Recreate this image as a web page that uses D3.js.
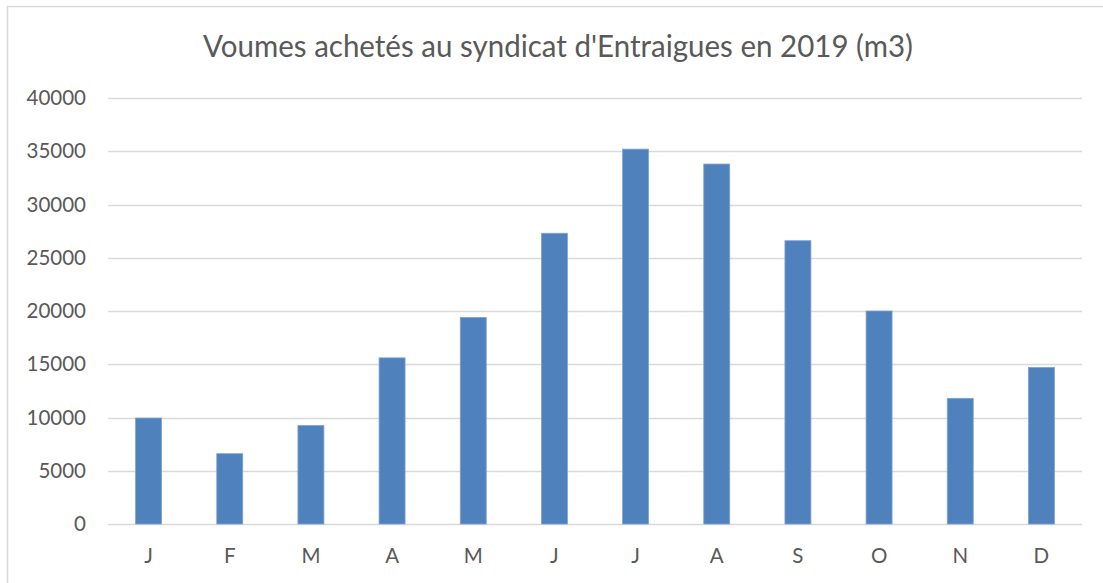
<!DOCTYPE html>
<html><head><meta charset="utf-8">
<script src="https://cdn.jsdelivr.net/npm/d3@7"></script>
<style>body{margin:0;background:#fff}svg{display:block}</style>
</head><body>
<svg id="c" width="1103" height="583"></svg>
<script>
const title = "Voumes achetés au syndicat d'Entraigues en 2019 (m3)";
const months = ["J","F","M","A","M","J","J","A","S","O","N","D"];
const values = [9950, 6600, 9250, 15600, 19400, 27300, 35200, 33800, 26600, 20000, 11800, 14700];
const yTicks = [0, 5000, 10000, 15000, 20000, 25000, 30000, 35000, 40000];

(function(){
const svg = d3.select("#c");
const font = "Lato, 'Open Sans', sans-serif";
svg.append("rect").attr("x",7.5).attr("y",6.5).attr("width",1200).attr("height",700)
  .attr("fill","#fff").attr("stroke","#d9d9d9").attr("stroke-width",1.5);

const pLeft = 108, pRight = 1082, pTop = 98, pBottom = 524;
const x = d3.scaleBand().domain(d3.range(months.length)).range([pLeft, pRight]).paddingInner(0.68).paddingOuter(0.34);
const y = d3.scaleLinear().domain([0, 40000]).range([pBottom, pTop]);

const g = svg.append("g");
g.selectAll("line.grid").data(yTicks).join("line")
  .attr("x1", pLeft).attr("x2", pRight)
  .attr("y1", d => Math.round(y(d)) + 0.5).attr("y2", d => Math.round(y(d)) + 0.5)
  .attr("stroke", "#d9d9d9").attr("stroke-width", 1.5);

const yAxis = d3.axisLeft(y).tickValues(yTicks).tickSize(0).tickPadding(0).tickFormat(d3.format("d"));
const ya = svg.append("g").attr("transform", `translate(${pLeft-22},0)`).call(yAxis);
ya.select(".domain").remove();
ya.selectAll("text").attr("font-family", font).attr("font-size", 20.5).attr("fill", "#595959");

g.selectAll("rect.bar").data(values).join("rect")
  .attr("x", (d,i) => x(i)).attr("width", x.bandwidth())
  .attr("y", d => y(d)).attr("height", d => y(0) - y(d))
  .attr("fill", "#4f81bd").attr("stroke", "#7fa3d0").attr("stroke-width", 0.8);

const xAxis = d3.axisBottom(x).tickSize(0).tickPadding(0).tickFormat(i => months[i]);
const xa = svg.append("g").attr("transform", `translate(0,${pBottom+24})`).call(xAxis);
xa.select(".domain").remove();
xa.selectAll("text").attr("font-family", font).attr("font-size", 20.5).attr("fill", "#595959");

svg.append("text").attr("x", 558).attr("y", 57).attr("text-anchor", "middle")
  .attr("font-family", font).attr("font-size", 30).attr("fill", "#595959")
  .attr("textLength", 710).attr("lengthAdjust", "spacingAndGlyphs")
  .text(title);
})();
</script>
</body></html>
